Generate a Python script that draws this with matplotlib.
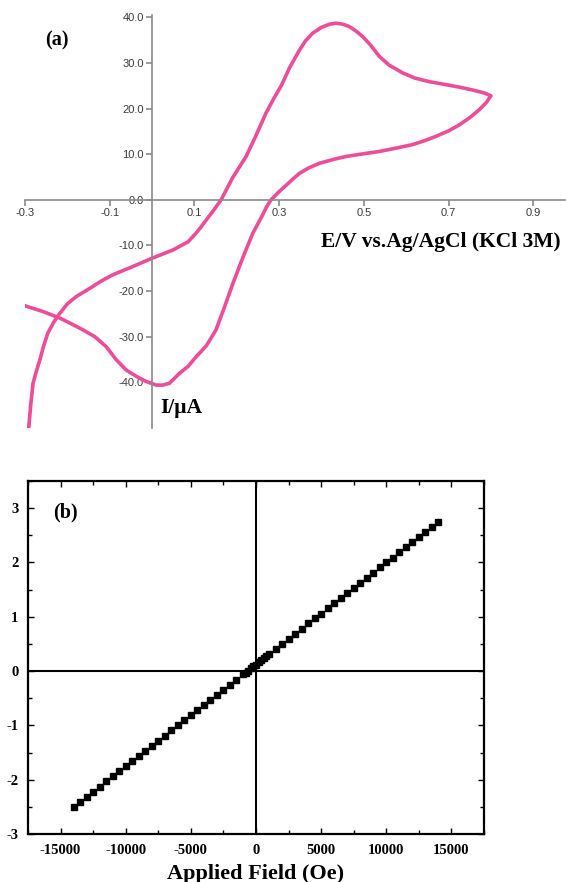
import matplotlib
matplotlib.use("Agg")
from matplotlib import pyplot as plt, ticker as mticker

plt.rcParams["axes.unicode_minus"] = False

# (a) cyclic voltammogram
cv_potential = [-0.291, -0.286, -0.281, -0.273, -0.265, -0.256, -0.246, -0.232, -0.218, -0.2,
                -0.179, -0.147, -0.12, -0.092, -0.045, 0.0, 0.049, 0.085, 0.104, 0.116,
                0.128, 0.146, 0.163, 0.19, 0.222, 0.245, 0.269, 0.288, 0.305, 0.325,
                0.348, 0.362, 0.379, 0.4, 0.42, 0.434, 0.45, 0.465, 0.48, 0.497,
                0.515, 0.537, 0.56, 0.592, 0.62, 0.654, 0.69, 0.725, 0.76, 0.785,
                0.8, 0.79, 0.772, 0.75, 0.725, 0.7, 0.67, 0.645, 0.615, 0.58,
                0.537, 0.5, 0.458, 0.43, 0.395, 0.37, 0.348, 0.333, 0.318, 0.3,
                0.281, 0.27, 0.26, 0.238, 0.215, 0.191, 0.171, 0.151, 0.128, 0.104,
                0.085, 0.065, 0.041, 0.025, 0.01, -0.014, -0.035, -0.061, -0.085, -0.108,
                -0.135, -0.163, -0.19, -0.218, -0.26, -0.301]
cv_current = [-49.7, -44.5, -40.2, -37.5, -35.1, -32.0, -29.2, -26.8, -24.9, -22.8,
              -21.2, -19.4, -17.8, -16.4, -14.6, -12.8, -11.0, -9.2, -7.3, -5.9,
              -4.4, -2.2, 0.0, 4.8, 9.5, 14.0, 19.0, 22.3, 25.0, 29.0,
              32.8, 34.8, 36.5, 37.8, 38.5, 38.7, 38.5, 38.0, 37.1, 35.8,
              34.0, 31.4, 29.5, 27.8, 26.7, 25.9, 25.3, 24.7, 24.0, 23.4,
              22.8, 21.4, 19.7, 18.0, 16.4, 15.1, 13.9, 13.0, 12.1, 11.4,
              10.6, 10.1, 9.5, 8.9, 8.0, 7.0, 5.8, 4.6, 3.3, 1.8,
              0.0, -1.6, -3.5, -7.3, -12.5, -18.3, -23.5, -28.5, -32.0, -34.4,
              -36.5, -38.0, -40.2, -40.6, -40.6, -39.8, -38.8, -37.3, -35.0, -32.2,
              -30.0, -28.5, -27.2, -25.9, -24.4, -23.2]

# (b) magnetisation vs applied field
field_oe = [-14000, -13500, -13000, -12500, -12000, -11500, -11000, -10500, -10000, -9500,
            -9000, -8500, -8000, -7500, -7000, -6500, -6000, -5500, -5000, -4500,
            -4000, -3500, -3000, -2500, -2000, -1500, -1000, -800, -600, -400,
            -200, 0, 200, 400, 600, 800, 1000, 1500, 2000, 2500,
            3000, 3500, 4000, 4500, 5000, 5500, 6000, 6500, 7000, 7500,
            8000, 8500, 9000, 9500, 10000, 10500, 11000, 11500, 12000, 12500,
            13000, 13500, 14000]
moment = [-2.50, -2.41, -2.31, -2.22, -2.13, -2.03, -1.94, -1.84, -1.75, -1.66,
          -1.56, -1.47, -1.38, -1.28, -1.19, -1.09, -1.00, -0.91, -0.81, -0.72,
          -0.63, -0.53, -0.44, -0.34, -0.25, -0.16, -0.06, -0.03, 0.01, 0.05,
          0.09, 0.12, 0.16, 0.20, 0.24, 0.27, 0.31, 0.41, 0.50, 0.59,
          0.69, 0.78, 0.88, 0.97, 1.06, 1.16, 1.25, 1.34, 1.44, 1.53,
          1.63, 1.72, 1.81, 1.91, 2.00, 2.09, 2.19, 2.28, 2.38, 2.47,
          2.56, 2.66, 2.75]

cv_ticks_x = [-0.3, -0.1, 0.1, 0.3, 0.5, 0.7, 0.9]
cv_ticks_y = [-40, -30, -20, -10, 0, 10, 20, 30, 40]

serif = "Liberation Serif"
fig = plt.figure(figsize=(5.66, 8.82), dpi=100)

# ---- panel (a)
ax1 = fig.add_axes([25 / 566, 1 - 428 / 882, (565 - 25) / 566, (428 - 15) / 882])
ax1.plot(cv_potential, cv_current, color="#EC4C98", lw=2.6, solid_joinstyle="round")
ax1.set_xlim(-0.3, 0.975)
ax1.set_ylim(-50, 40.5)
for s in ["top", "right"]:
    ax1.spines[s].set_visible(False)
ax1.spines["left"].set_position(("data", 0))
ax1.spines["bottom"].set_position(("data", 0))
for s in ["left", "bottom"]:
    ax1.spines[s].set_color("#8a8a8a")
    ax1.spines[s].set_linewidth(1.2)
ax1.set_xticks(cv_ticks_x)
ax1.set_yticks(cv_ticks_y)
ax1.xaxis.set_major_formatter(mticker.FormatStrFormatter("%.1f"))
ax1.yaxis.set_major_formatter(mticker.FormatStrFormatter("%.1f"))
ax1.tick_params(direction="out", length=4, width=1.2, color="#8a8a8a",
                labelsize=8, labelcolor="#3a3a3a", pad=2)
for lbl in ax1.get_xticklabels() + ax1.get_yticklabels():
    lbl.set_family("Liberation Sans")
ax1.patch.set_alpha(0)
fig.text(45 / 566, 1 - 40 / 882, "(a)", family=serif, weight="bold", fontsize=14.5,
         va="center", ha="left")
fig.text(561 / 566, 1 - 242 / 882, "E/V vs.Ag/AgCl (KCl 3M)", family=serif,
         weight="bold", fontsize=15.5, va="center", ha="right")
fig.text(160 / 566, 1 - 408 / 882, "I/\u03bcA", family=serif, weight="bold",
         fontsize=15.5, va="center", ha="left")

# ---- panel (b)
ax2 = fig.add_axes([28 / 566, 1 - 834 / 882, (484 - 28) / 566, (834 - 481) / 882])
ax2.axhline(0, color="k", lw=1.5, zorder=1)
ax2.axvline(0, color="k", lw=1.5, zorder=1)
ax2.plot(field_oe, moment, ls="none", marker="s", ms=4.3, color="k", zorder=3)
ax2.set_xlim(-17500, 17500)
ax2.set_ylim(-3, 3.5)
ax2.set_xticks([-15000, -10000, -5000, 0, 5000, 10000, 15000])
ax2.set_yticks([-3, -2, -1, 0, 1, 2, 3])
ax2.xaxis.set_minor_locator(mticker.MultipleLocator(2500))
ax2.yaxis.set_minor_locator(mticker.MultipleLocator(0.5))
for s in ax2.spines.values():
    s.set_linewidth(1.6)
ax2.tick_params(which="both", direction="in", top=True, right=True, width=1.0,
                labelsize=10.5)
ax2.tick_params(which="major", length=4)
ax2.tick_params(which="minor", length=3)
ax2.tick_params(axis="x", which="major", pad=7)
ax2.tick_params(axis="y", which="major", pad=7)
for lbl in ax2.get_xticklabels() + ax2.get_yticklabels():
    lbl.set_family(serif)
    lbl.set_weight("bold")
ax2.set_xlabel("Applied Field (Oe)", family=serif, weight="bold", fontsize=16, labelpad=5)
ax2.text(0.055, 0.91, "(b)", transform=ax2.transAxes, family=serif, weight="bold",
         fontsize=14.5, va="center", ha="left")

fig.savefig("out.png", dpi=100)
